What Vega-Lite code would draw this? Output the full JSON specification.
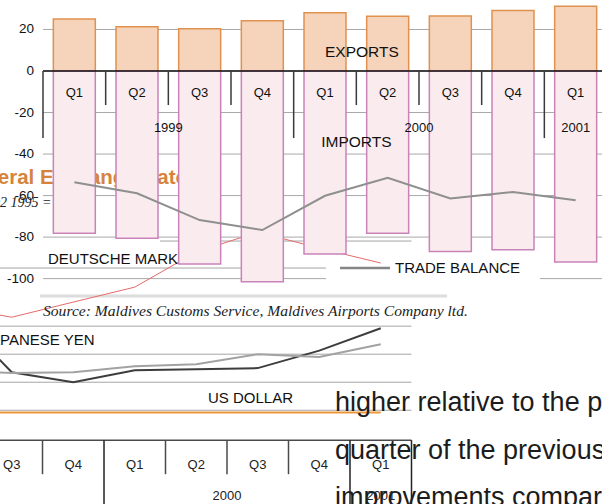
{
  "$schema": "https://vega.github.io/schema/vega-lite/v6.json",
  "width": 564,
  "height": 507,
  "autosize": "none",
  "padding": {"left": 43, "top": 0, "right": 0, "bottom": 0},
  "background": "white",
  "config": {"view": {"stroke": null}, "font": "Liberation Sans", "text": {"font": "Liberation Sans"}},
  "datasets": {
    "trade": [
      {"q": "1999 Q1", "ql": "Q1", "yr": "1999", "exp": 25.1, "imp": -78.2, "bal": -53.6},
      {"q": "1999 Q2", "ql": "Q2", "yr": "1999", "exp": 21.3, "imp": -80.6, "bal": -58.9},
      {"q": "1999 Q3", "ql": "Q3", "yr": "1999", "exp": 20.4, "imp": -93.0, "bal": -71.8},
      {"q": "1999 Q4", "ql": "Q4", "yr": "1999", "exp": 24.2, "imp": -101.5, "bal": -76.6},
      {"q": "2000 Q1", "ql": "Q1", "yr": "2000", "exp": 28.1, "imp": -88.2, "bal": -60.1},
      {"q": "2000 Q2", "ql": "Q2", "yr": "2000", "exp": 26.4, "imp": -78.2, "bal": -51.4},
      {"q": "2000 Q3", "ql": "Q3", "yr": "2000", "exp": 26.5, "imp": -86.9, "bal": -61.4},
      {"q": "2000 Q4", "ql": "Q4", "yr": "2000", "exp": 29.1, "imp": -86.1, "bal": -58.3},
      {"q": "2001 Q1", "ql": "Q1", "yr": "2001", "exp": 31.2, "imp": -92.0, "bal": -62.3}
    ],
    "ygrid": [{"t": -100}, {"t": -80}, {"t": -60}, {"t": -40}, {"t": -20}, {"t": 0}, {"t": 20}],
    "fx": [
      {"s": "DM", "qi": 1, "v": -113.3}, {"s": "DM", "qi": 2, "v": -118.6}, {"s": "DM", "qi": 3, "v": -111.3},
      {"s": "DM", "qi": 4, "v": -104.1}, {"s": "DM", "qi": 5, "v": -87.2}, {"s": "DM", "qi": 6, "v": -77.6},
      {"s": "DM", "qi": 7, "v": -85.3}, {"s": "DM", "qi": 8, "v": -92.5},
      {"s": "JPY", "qi": 1, "v": -114.7}, {"s": "JPY", "qi": 2, "v": -145.1}, {"s": "JPY", "qi": 3, "v": -149.9},
      {"s": "JPY", "qi": 4, "v": -144.1}, {"s": "JPY", "qi": 5, "v": -143.6}, {"s": "JPY", "qi": 6, "v": -143.1},
      {"s": "JPY", "qi": 7, "v": -134.7}, {"s": "JPY", "qi": 8, "v": -123.9},
      {"s": "JPY2", "qi": 1, "v": -144.1}, {"s": "JPY2", "qi": 2, "v": -145.5}, {"s": "JPY2", "qi": 3, "v": -145.1},
      {"s": "JPY2", "qi": 4, "v": -142.2}, {"s": "JPY2", "qi": 5, "v": -141.2}, {"s": "JPY2", "qi": 6, "v": -136.4},
      {"s": "JPY2", "qi": 7, "v": -137.8}, {"s": "JPY2", "qi": 8, "v": -131.6},
      {"s": "USD", "qi": 1, "v": -164.5}, {"s": "USD", "qi": 2, "v": -164.5}, {"s": "USD", "qi": 3, "v": -164.5},
      {"s": "USD", "qi": 4, "v": -164.5}, {"s": "USD", "qi": 5, "v": -164.5}, {"s": "USD", "qi": 6, "v": -164.5},
      {"s": "USD", "qi": 7, "v": -164.5}, {"s": "USD", "qi": 8, "v": -164.5}
    ],
    "ogrid": [
      {"g": -81.9, "x0": 4.41}, {"g": -94.9, "x0": -0.5}, {"g": -122.9, "x0": -0.5},
      {"g": -136.4, "x0": -0.5}, {"g": -149.9, "x0": -0.5}, {"g": -163.4, "x0": -0.5}
    ],
    "otick": [
      {"b": 1.5, "kind": "short"}, {"b": 2.5, "kind": "short"}, {"b": 3.5, "kind": "long"},
      {"b": 4.5, "kind": "short"}, {"b": 5.5, "kind": "short"}, {"b": 6.5, "kind": "short"},
      {"b": 7.5, "kind": "long"}, {"b": 8.5, "kind": "long"}
    ],
    "oq": [
      {"qi": 2, "ql": "Q3"}, {"qi": 3, "ql": "Q4"}, {"qi": 4, "ql": "Q1"}, {"qi": 5, "ql": "Q2"},
      {"qi": 6, "ql": "Q3"}, {"qi": 7, "ql": "Q4"}, {"qi": 8, "ql": "Q1"}
    ],
    "oyear": [{"qi": 1.5, "yr": "1999"}, {"qi": 5.5, "yr": "2000"}, {"qi": 8, "yr": "2001"}],
    "notes": [
      {"id": "title", "label": "Bilateral Exchange Rates"},
      {"id": "sub", "label": "Q2 1995 = 100"},
      {"id": "dm", "label": "DEUTSCHE MARK"},
      {"id": "yen", "label": "JAPANESE YEN"},
      {"id": "usd", "label": "US DOLLAR"},
      {"id": "b1", "label": "higher relative to the previous"},
      {"id": "b2", "label": "quarter of the previous year"},
      {"id": "b3", "label": "improvements compared to the"},
      {"id": "tb", "label": "TRADE BALANCE"},
      {"id": "exp", "label": "EXPORTS"},
      {"id": "imp", "label": "IMPORTS"},
      {"id": "src", "label": "Source: Maldives Customs Service, Maldives Airports Company ltd."}
    ]
  },
  "layer": [
    {
      "data": {"name": "ygrid"},
      "mark": {"type": "rule", "color": "#a8a8a8", "strokeWidth": 1},
      "encoding": {
        "y": {"field": "t", "type": "quantitative", "scale": {"domain": [-210, 34.2], "nice": false, "zero": false}, "axis": null}
      }
    },
    {
      "data": {"name": "ygrid"},
      "mark": {"type": "text", "align": "right", "baseline": "middle", "fontSize": 13.5, "color": "#111"},
      "encoding": {
        "x": {"datum": 2.362, "type": "quantitative", "scale": {"domain": [2.508, 11.679], "nice": false, "zero": false}, "axis": null},
        "y": {"field": "t", "type": "quantitative", "axis": null},
        "text": {"field": "t", "type": "nominal"}
      }
    },
    {
      "data": {"name": "ogrid"},
      "mark": {"type": "rule", "color": "#a6a6a6", "strokeWidth": 1},
      "encoding": {
        "x": {"field": "x0", "type": "quantitative", "scale": {"domain": [2.508, 11.679], "nice": false, "zero": false}, "axis": null},
        "x2": {"datum": 8.5},
        "y": {"field": "g", "type": "quantitative", "axis": null}
      }
    },
    {
      "data": {"name": "notes"},
      "transform": [{"filter": "datum.id == 'src'"}],
      "mark": {"type": "rule", "color": "#dcdcdc", "strokeWidth": 3},
      "encoding": {
        "x": {"datum": 2.459, "type": "quantitative", "scale": {"domain": [2.508, 11.679], "nice": false, "zero": false}, "axis": null},
        "x2": {"datum": 9.077},
        "y": {"datum": -108.4, "type": "quantitative", "axis": null}
      }
    },
    {
      "data": {"name": "fx"},
      "transform": [{"filter": "datum.s == 'DM'"}],
      "mark": {"type": "line", "color": "#e46a6a", "strokeWidth": 1},
      "encoding": {
        "x": {"field": "qi", "type": "quantitative", "scale": {"domain": [2.508, 11.679], "nice": false, "zero": false}, "axis": null},
        "y": {"field": "v", "type": "quantitative", "axis": null}
      }
    },
    {
      "data": {"name": "fx"},
      "transform": [{"filter": "datum.s != 'DM'"}],
      "mark": {"type": "line", "strokeWidth": 2},
      "encoding": {
        "x": {"field": "qi", "type": "quantitative", "scale": {"domain": [2.508, 11.679], "nice": false, "zero": false}, "axis": null},
        "y": {"field": "v", "type": "quantitative", "axis": null},
        "color": {"field": "s", "type": "nominal", "scale": {"domain": ["JPY", "JPY2", "USD"], "range": ["#3d3d3d", "#a2a2a2", "#ec963a"]}, "legend": null}
      }
    },
    {
      "data": {"name": "notes"},
      "transform": [{"filter": "datum.id == 'title'"}],
      "mark": {"type": "text", "align": "left", "baseline": "alphabetic", "fontSize": 20.5, "fontWeight": "bold", "color": "#d6843c"},
      "encoding": {
        "x": {"datum": 1.05, "type": "quantitative", "scale": {"domain": [2.508, 11.679], "nice": false, "zero": false}, "axis": null},
        "y": {"datum": -54.5, "type": "quantitative", "axis": null},
        "text": {"field": "label"}
      }
    },
    {
      "data": {"name": "notes"},
      "transform": [{"filter": "datum.id == 'sub'"}],
      "mark": {"type": "text", "align": "left", "baseline": "alphabetic", "fontSize": 14, "fontStyle": "italic", "font": "Liberation Serif", "color": "#222"},
      "encoding": {
        "x": {"datum": 1.646, "type": "quantitative", "scale": {"domain": [2.508, 11.679], "nice": false, "zero": false}, "axis": null},
        "y": {"datum": -65.5, "type": "quantitative", "axis": null},
        "text": {"field": "label"}
      }
    },
    {
      "data": {"name": "notes"},
      "transform": [{"filter": "datum.id == 'dm'"}],
      "mark": {"type": "text", "align": "left", "baseline": "alphabetic", "fontSize": 15, "color": "#111"},
      "encoding": {
        "x": {"datum": 2.589, "type": "quantitative", "scale": {"domain": [2.508, 11.679], "nice": false, "zero": false}, "axis": null},
        "y": {"datum": -93.0, "type": "quantitative", "axis": null},
        "text": {"field": "label"}
      }
    },
    {
      "data": {"name": "notes"},
      "transform": [{"filter": "datum.id == 'yen'"}],
      "mark": {"type": "text", "align": "left", "baseline": "alphabetic", "fontSize": 15, "color": "#111"},
      "encoding": {
        "x": {"datum": 1.524, "type": "quantitative", "scale": {"domain": [2.508, 11.679], "nice": false, "zero": false}, "axis": null},
        "y": {"datum": -132.0, "type": "quantitative", "axis": null},
        "text": {"field": "label"}
      }
    },
    {
      "data": {"name": "notes"},
      "transform": [{"filter": "datum.id == 'usd'"}],
      "mark": {"type": "text", "align": "left", "baseline": "alphabetic", "fontSize": 15, "color": "#111"},
      "encoding": {
        "x": {"datum": 5.191, "type": "quantitative", "scale": {"domain": [2.508, 11.679], "nice": false, "zero": false}, "axis": null},
        "y": {"datum": -159.9, "type": "quantitative", "axis": null},
        "text": {"field": "label"}
      }
    },
    {
      "data": {"name": "notes"},
      "transform": [{"filter": "datum.id == 'b1'"}],
      "mark": {"type": "text", "align": "left", "baseline": "alphabetic", "fontSize": 27, "color": "#1c1c1c"},
      "encoding": {
        "x": {"datum": 7.256, "type": "quantitative", "scale": {"domain": [2.508, 11.679], "nice": false, "zero": false}, "axis": null},
        "y": {"datum": -163.7, "type": "quantitative", "axis": null},
        "text": {"field": "label"}
      }
    },
    {
      "data": {"name": "notes"},
      "transform": [{"filter": "datum.id == 'b2'"}],
      "mark": {"type": "text", "align": "left", "baseline": "alphabetic", "fontSize": 27, "color": "#1c1c1c"},
      "encoding": {
        "x": {"datum": 7.256, "type": "quantitative", "scale": {"domain": [2.508, 11.679], "nice": false, "zero": false}, "axis": null},
        "y": {"datum": -186.7, "type": "quantitative", "axis": null},
        "text": {"field": "label"}
      }
    },
    {
      "data": {"name": "notes"},
      "transform": [{"filter": "datum.id == 'b3'"}],
      "mark": {"type": "text", "align": "left", "baseline": "alphabetic", "fontSize": 27, "color": "#1c1c1c"},
      "encoding": {
        "x": {"datum": 7.256, "type": "quantitative", "scale": {"domain": [2.508, 11.679], "nice": false, "zero": false}, "axis": null},
        "y": {"datum": -209.6, "type": "quantitative", "axis": null},
        "text": {"field": "label"}
      }
    },
    {
      "data": {"name": "notes"},
      "transform": [{"filter": "datum.id == 'src'"}],
      "mark": {"type": "rule", "color": "#4a4a4a", "strokeWidth": 1.5},
      "encoding": {
        "x": {"datum": -0.5, "type": "quantitative", "scale": {"domain": [2.508, 11.679], "nice": false, "zero": false}, "axis": null},
        "x2": {"datum": 8.5},
        "y": {"datum": -177.8, "type": "quantitative", "axis": null}
      }
    },
    {
      "data": {"name": "otick"},
      "transform": [{"filter": "datum.kind == 'short'"}],
      "mark": {"type": "rule", "color": "#4a4a4a", "strokeWidth": 1.5},
      "encoding": {
        "x": {"field": "b", "type": "quantitative", "scale": {"domain": [2.508, 11.679], "nice": false, "zero": false}, "axis": null},
        "y": {"datum": -177.8, "type": "quantitative", "axis": null},
        "y2": {"datum": -194.2}
      }
    },
    {
      "data": {"name": "otick"},
      "transform": [{"filter": "datum.kind == 'long'"}],
      "mark": {"type": "rule", "color": "#222", "strokeWidth": 1.5},
      "encoding": {
        "x": {"field": "b", "type": "quantitative", "scale": {"domain": [2.508, 11.679], "nice": false, "zero": false}, "axis": null},
        "y": {"datum": -177.8, "type": "quantitative", "axis": null},
        "y2": {"datum": -210}
      }
    },
    {
      "data": {"name": "oq"},
      "mark": {"type": "text", "baseline": "middle", "fontSize": 13, "color": "#222"},
      "encoding": {
        "x": {"field": "qi", "type": "quantitative", "scale": {"domain": [2.508, 11.679], "nice": false, "zero": false}, "axis": null},
        "y": {"datum": -189.6, "type": "quantitative", "axis": null},
        "text": {"field": "ql"}
      }
    },
    {
      "data": {"name": "oyear"},
      "mark": {"type": "text", "baseline": "middle", "fontSize": 13, "color": "#222"},
      "encoding": {
        "x": {"field": "qi", "type": "quantitative", "scale": {"domain": [2.508, 11.679], "nice": false, "zero": false}, "axis": null},
        "y": {"datum": -204.8, "type": "quantitative", "axis": null},
        "text": {"field": "yr"}
      }
    },
    {
      "data": {"name": "notes"},
      "transform": [{"filter": "datum.id == 'tb'"}],
      "mark": {"type": "rect", "color": "white"},
      "encoding": {
        "x": {"datum": 7.11, "type": "quantitative", "scale": {"domain": [2.508, 11.679], "nice": false, "zero": false}, "axis": null},
        "x2": {"datum": 10.589},
        "y": {"datum": -93.0, "type": "quantitative", "axis": null},
        "y2": {"datum": -105.5}
      }
    },
    {
      "data": {"name": "notes"},
      "transform": [{"filter": "datum.id == 'tb'"}],
      "mark": {"type": "rule", "color": "#858585", "strokeWidth": 2.5},
      "encoding": {
        "x": {"datum": 7.337, "type": "quantitative", "scale": {"domain": [2.508, 11.679], "nice": false, "zero": false}, "axis": null},
        "x2": {"datum": 8.15},
        "y": {"datum": -94.9, "type": "quantitative", "axis": null}
      }
    },
    {
      "data": {"name": "notes"},
      "transform": [{"filter": "datum.id == 'tb'"}],
      "mark": {"type": "text", "align": "left", "baseline": "middle", "fontSize": 15, "color": "#111"},
      "encoding": {
        "x": {"datum": 8.232, "type": "quantitative", "scale": {"domain": [2.508, 11.679], "nice": false, "zero": false}, "axis": null},
        "y": {"datum": -94.9, "type": "quantitative", "axis": null},
        "text": {"field": "label"}
      }
    },
    {
      "data": {"name": "trade"},
      "mark": {"type": "bar", "fill": "#f6d4bb", "stroke": "#e0914f", "strokeWidth": 1.5, "width": {"band": 0.67}},
      "encoding": {
        "x": {"field": "q", "type": "nominal", "scale": {"type": "band", "domain": ["1999 Q1", "1999 Q2", "1999 Q3", "1999 Q4", "2000 Q1", "2000 Q2", "2000 Q3", "2000 Q4", "2001 Q1"], "paddingInner": 0, "paddingOuter": 0}, "axis": null},
        "y": {"field": "exp", "type": "quantitative", "axis": null},
        "y2": {"datum": 0}
      }
    },
    {
      "data": {"name": "trade"},
      "mark": {"type": "bar", "fill": "#faecee", "stroke": "#c983b9", "strokeWidth": 1.5, "width": {"band": 0.67}},
      "encoding": {
        "x": {"field": "q", "type": "nominal", "scale": {"type": "band", "domain": ["1999 Q1", "1999 Q2", "1999 Q3", "1999 Q4", "2000 Q1", "2000 Q2", "2000 Q3", "2000 Q4", "2001 Q1"], "paddingInner": 0, "paddingOuter": 0}, "axis": null},
        "y": {"field": "imp", "type": "quantitative", "axis": null},
        "y2": {"datum": 0}
      }
    },
    {
      "data": {"name": "trade"},
      "mark": {"type": "line", "color": "#8f8f8f", "strokeWidth": 2},
      "encoding": {
        "x": {"field": "q", "type": "nominal", "scale": {"type": "band", "domain": ["1999 Q1", "1999 Q2", "1999 Q3", "1999 Q4", "2000 Q1", "2000 Q2", "2000 Q3", "2000 Q4", "2001 Q1"], "paddingInner": 0, "paddingOuter": 0}, "axis": null},
        "y": {"field": "bal", "type": "quantitative", "axis": null}
      }
    },
    {
      "data": {"name": "notes"},
      "transform": [{"filter": "datum.id == 'exp'"}],
      "mark": {"type": "rule", "color": "#111", "strokeWidth": 1.5},
      "encoding": {
        "x": {"datum": "1999 Q1", "type": "nominal", "bandPosition": 0, "scale": {"type": "band", "domain": ["1999 Q1", "1999 Q2", "1999 Q3", "1999 Q4", "2000 Q1", "2000 Q2", "2000 Q3", "2000 Q4", "2001 Q1"], "paddingInner": 0, "paddingOuter": 0}, "axis": null},
        "x2": {"datum": "2001 Q1", "bandPosition": 1},
        "y": {"datum": 0, "type": "quantitative", "axis": null}
      }
    },
    {
      "data": {"name": "trade"},
      "transform": [{"filter": "datum.ql != 'Q1'"}],
      "mark": {"type": "rule", "color": "#3a3a3a", "strokeWidth": 1.5},
      "encoding": {
        "x": {"field": "q", "type": "nominal", "bandPosition": 0, "scale": {"type": "band", "domain": ["1999 Q1", "1999 Q2", "1999 Q3", "1999 Q4", "2000 Q1", "2000 Q2", "2000 Q3", "2000 Q4", "2001 Q1"], "paddingInner": 0, "paddingOuter": 0}, "axis": null},
        "y": {"datum": 0, "type": "quantitative", "axis": null},
        "y2": {"datum": -16.4}
      }
    },
    {
      "data": {"name": "trade"},
      "transform": [{"filter": "datum.ql == 'Q1'"}],
      "mark": {"type": "rule", "color": "#3a3a3a", "strokeWidth": 1.5},
      "encoding": {
        "x": {"field": "q", "type": "nominal", "bandPosition": 0, "scale": {"type": "band", "domain": ["1999 Q1", "1999 Q2", "1999 Q3", "1999 Q4", "2000 Q1", "2000 Q2", "2000 Q3", "2000 Q4", "2001 Q1"], "paddingInner": 0, "paddingOuter": 0}, "axis": null},
        "y": {"datum": 0, "type": "quantitative", "axis": null},
        "y2": {"datum": -32.3}
      }
    },
    {
      "data": {"name": "trade"},
      "mark": {"type": "text", "baseline": "middle", "fontSize": 13, "color": "#111"},
      "encoding": {
        "x": {"field": "q", "type": "nominal", "scale": {"type": "band", "domain": ["1999 Q1", "1999 Q2", "1999 Q3", "1999 Q4", "2000 Q1", "2000 Q2", "2000 Q3", "2000 Q4", "2001 Q1"], "paddingInner": 0, "paddingOuter": 0}, "axis": null},
        "y": {"datum": -10.6, "type": "quantitative", "axis": null},
        "text": {"field": "ql"}
      }
    },
    {
      "data": {"name": "trade"},
      "transform": [{"filter": "datum.q == '1999 Q3' || datum.q == '2000 Q3'"}],
      "mark": {"type": "text", "baseline": "middle", "fontSize": 13, "color": "#111"},
      "encoding": {
        "x": {"field": "q", "type": "nominal", "bandPosition": 0, "scale": {"type": "band", "domain": ["1999 Q1", "1999 Q2", "1999 Q3", "1999 Q4", "2000 Q1", "2000 Q2", "2000 Q3", "2000 Q4", "2001 Q1"], "paddingInner": 0, "paddingOuter": 0}, "axis": null},
        "y": {"datum": -27.5, "type": "quantitative", "axis": null},
        "text": {"field": "yr"}
      }
    },
    {
      "data": {"name": "trade"},
      "transform": [{"filter": "datum.q == '2001 Q1'"}],
      "mark": {"type": "text", "baseline": "middle", "fontSize": 13, "color": "#111"},
      "encoding": {
        "x": {"field": "q", "type": "nominal", "scale": {"type": "band", "domain": ["1999 Q1", "1999 Q2", "1999 Q3", "1999 Q4", "2000 Q1", "2000 Q2", "2000 Q3", "2000 Q4", "2001 Q1"], "paddingInner": 0, "paddingOuter": 0}, "axis": null},
        "y": {"datum": -27.5, "type": "quantitative", "axis": null},
        "text": {"field": "yr"}
      }
    },
    {
      "data": {"name": "notes"},
      "transform": [{"filter": "datum.id == 'exp'"}],
      "mark": {"type": "text", "align": "left", "baseline": "middle", "fontSize": 15.5, "color": "#111"},
      "encoding": {
        "x": {"datum": "2000 Q1", "type": "nominal", "scale": {"type": "band", "domain": ["1999 Q1", "1999 Q2", "1999 Q3", "1999 Q4", "2000 Q1", "2000 Q2", "2000 Q3", "2000 Q4", "2001 Q1"], "paddingInner": 0, "paddingOuter": 0}, "axis": null},
        "y": {"datum": 9.2, "type": "quantitative", "axis": null},
        "text": {"field": "label"}
      }
    },
    {
      "data": {"name": "notes"},
      "transform": [{"filter": "datum.id == 'imp'"}],
      "mark": {"type": "text", "align": "center", "baseline": "middle", "fontSize": 15.5, "color": "#111"},
      "encoding": {
        "x": {"datum": "2000 Q2", "type": "nominal", "bandPosition": 0, "scale": {"type": "band", "domain": ["1999 Q1", "1999 Q2", "1999 Q3", "1999 Q4", "2000 Q1", "2000 Q2", "2000 Q3", "2000 Q4", "2001 Q1"], "paddingInner": 0, "paddingOuter": 0}, "axis": null},
        "y": {"datum": -34.2, "type": "quantitative", "axis": null},
        "text": {"field": "label"}
      }
    },
    {
      "data": {"name": "notes"},
      "transform": [{"filter": "datum.id == 'src'"}],
      "mark": {"type": "text", "align": "left", "baseline": "middle", "fontSize": 15.6, "fontStyle": "italic", "font": "Liberation Serif", "color": "#222"},
      "encoding": {
        "x": {"datum": "1999 Q1", "type": "nominal", "bandPosition": 0, "scale": {"type": "band", "domain": ["1999 Q1", "1999 Q2", "1999 Q3", "1999 Q4", "2000 Q1", "2000 Q2", "2000 Q3", "2000 Q4", "2001 Q1"], "paddingInner": 0, "paddingOuter": 0}, "axis": null},
        "y": {"datum": -115.7, "type": "quantitative", "axis": null},
        "text": {"field": "label"}
      }
    }
  ],
  "resolve": {"scale": {"x": "independent"}}
}
